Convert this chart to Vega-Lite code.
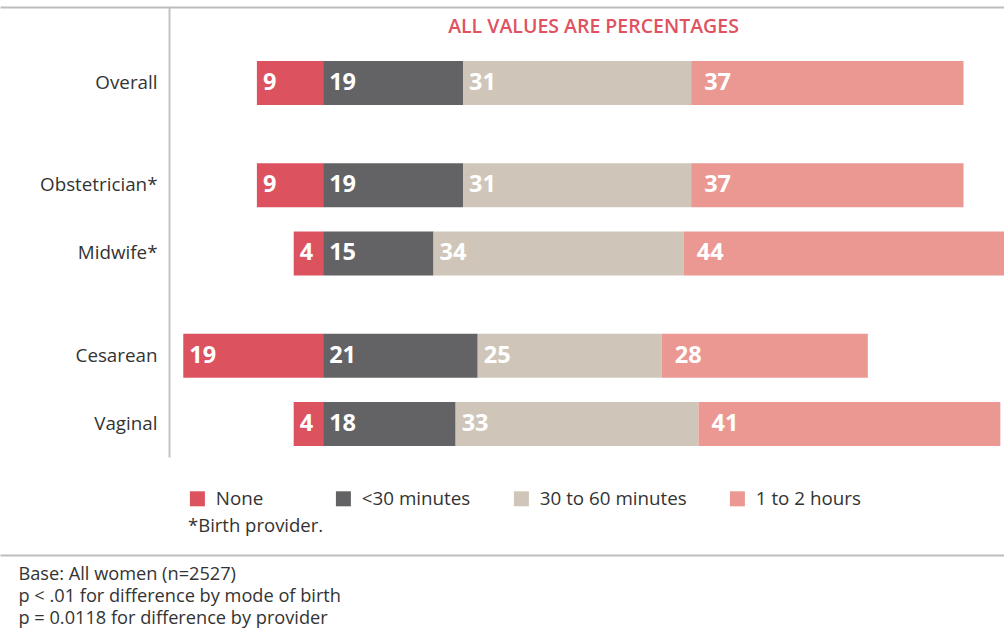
{
  "$schema": "https://vega.github.io/schema/vega-lite/v6.json",
  "width": 1004,
  "height": 450,
  "autosize": {"type": "none"},
  "padding": {"left": 0, "top": 7, "right": 0, "bottom": 174},
  "config": {"view": {"stroke": null}, "font": "Open Sans", "axis": {"grid": false}},
  "data": {
    "values": [
      {"group": "Overall", "duration": "None", "pct": 9},
      {"group": "Overall", "duration": "<30 minutes", "pct": 19},
      {"group": "Overall", "duration": "30 to 60 minutes", "pct": 31},
      {"group": "Overall", "duration": "1 to 2 hours", "pct": 37},
      {"group": "Obstetrician*", "duration": "None", "pct": 9},
      {"group": "Obstetrician*", "duration": "<30 minutes", "pct": 19},
      {"group": "Obstetrician*", "duration": "30 to 60 minutes", "pct": 31},
      {"group": "Obstetrician*", "duration": "1 to 2 hours", "pct": 37},
      {"group": "Midwife*", "duration": "None", "pct": 4},
      {"group": "Midwife*", "duration": "<30 minutes", "pct": 15},
      {"group": "Midwife*", "duration": "30 to 60 minutes", "pct": 34},
      {"group": "Midwife*", "duration": "1 to 2 hours", "pct": 44},
      {"group": "Cesarean", "duration": "None", "pct": 19},
      {"group": "Cesarean", "duration": "<30 minutes", "pct": 21},
      {"group": "Cesarean", "duration": "30 to 60 minutes", "pct": 25},
      {"group": "Cesarean", "duration": "1 to 2 hours", "pct": 28},
      {"group": "Vaginal", "duration": "None", "pct": 4},
      {"group": "Vaginal", "duration": "<30 minutes", "pct": 18},
      {"group": "Vaginal", "duration": "30 to 60 minutes", "pct": 33},
      {"group": "Vaginal", "duration": "1 to 2 hours", "pct": 41}
    ]
  },
  "transform": [
    {"calculate": "indexof(['None','<30 minutes','30 to 60 minutes','1 to 2 hours'], datum.duration)", "as": "ord"},
    {"calculate": "datum.duration === 'None' ? -datum.pct : datum.pct", "as": "signed"},
    {"stack": "signed", "groupby": ["group"], "sort": [{"field": "ord", "order": "ascending"}], "as": ["x0", "x1"], "offset": "zero"},
    {"calculate": "min(datum.x0, datum.x1)", "as": "left"}
  ],
  "encoding": {
    "y": {
      "field": "group",
      "type": "nominal",
      "scale": {
        "domain": ["", "Overall", " ", "  ", "Obstetrician*", "   ", "Midwife*", "    ", "     ", "Cesarean", "      ", "Vaginal"],
        "paddingInner": 0,
        "paddingOuter": 0.598,
        "align": 0.609
      },
      "axis": {
        "orient": "left",
        "offset": -169,
        "title": null,
        "ticks": false,
        "tickSize": 0,
        "labelPadding": 12,
        "labelFontSize": 18.8,
        "labelColor": "#333333",
        "labelFont": "Open Sans",
        "domainColor": "#c4c4c4",
        "domainWidth": 2
      }
    }
  },
  "layer": [
    {
      "mark": {"type": "bar", "height": 44},
      "encoding": {
        "x": {
          "field": "x0",
          "type": "quantitative",
          "scale": {"domain": [-43.9, 92.5], "nice": false, "zero": false},
          "axis": {
            "orient": "top",
            "labels": false,
            "ticks": false,
            "grid": false,
            "domainColor": "#bdbdbd",
            "domainWidth": 2,
            "title": "ALL VALUES ARE PERCENTAGES",
            "titleColor": "#e0525f",
            "titleFontSize": 19.5,
            "titleFontWeight": 600,
            "titleFont": "Open Sans",
            "titleX": 593,
            "titleY": 19,
            "titleAlign": "center",
            "titleBaseline": "middle"
          }
        },
        "x2": {"field": "x1"},
        "color": {
          "field": "duration",
          "type": "nominal",
          "scale": {
            "domain": ["None", "<30 minutes", "30 to 60 minutes", "1 to 2 hours"],
            "range": ["#dc525e", "#636365", "#cfc6b9", "#eb9893"]
          },
          "legend": {
            "orient": "none",
            "legendX": 188,
            "legendY": 482,
            "direction": "horizontal",
            "columns": 4,
            "padding": 0,
            "title": "*Birth provider.",
            "titleOrient": "bottom",
            "titleAnchor": "start",
            "titleFontWeight": "normal",
            "titleFontSize": 18.5,
            "titleColor": "#333333",
            "titleFont": "Open Sans",
            "titlePadding": 8,
            "symbolType": "square",
            "symbolSize": 225,
            "symbolStrokeWidth": 0,
            "symbolOpacity": 1,
            "labelFontSize": 18.8,
            "labelColor": "#333333",
            "labelFont": "Open Sans",
            "labelOffset": 9,
            "labelLimit": 300,
            "labelExpr": "datum.label === 'None' ? 'None\u00a0\u00a0\u00a0\u00a0\u00a0\u00a0\u200b' : datum.label",
            "columnPadding": 41,
            "encode": {
              "symbols": {
                "update": {
                  "fill": {"signal": "datum.value === 'None' ? '#b53d4d' : scale('color', datum.value)"}
                }
              }
            }
          }
        }
      }
    },
    {
      "transform": [{"filter": "datum.duration !== '1 to 2 hours'"}],
      "mark": {"type": "text", "align": "left", "baseline": "middle", "dx": 6, "fontSize": 23.5, "fontWeight": "bold", "color": "#ffffff", "font": "Open Sans"},
      "encoding": {
        "x": {
          "field": "left",
          "type": "quantitative",
          "scale": {"domain": [-43.9, 92.5], "nice": false, "zero": false},
          "axis": {
            "orient": "bottom",
            "offset": 98,
            "labels": false,
            "ticks": false,
            "grid": false,
            "domainColor": "#bdbdbd",
            "domainWidth": 2,
            "title": ["Base: All women (n=2527)", "p < .01 for difference by mode of birth", "p = 0.0118 for difference by provider"],
            "titleColor": "#333333",
            "titleFontSize": 18.2,
            "titleFontWeight": "normal",
            "titleFont": "Open Sans",
            "titleLineHeight": 22,
            "titleX": 18,
            "titleY": 10,
            "titleAlign": "left",
            "titleAnchor": "start",
            "titleBaseline": "top"
          }
        },
        "text": {"field": "pct", "type": "quantitative"}
      }
    },
    {
      "transform": [{"filter": "datum.duration === '1 to 2 hours'"}],
      "mark": {"type": "text", "align": "left", "baseline": "middle", "dx": 13, "fontSize": 23.5, "fontWeight": "bold", "color": "#ffffff", "font": "Open Sans"},
      "encoding": {
        "x": {
          "field": "left",
          "type": "quantitative",
          "scale": {"domain": [-43.9, 92.5], "nice": false, "zero": false},
          "axis": null
        },
        "text": {"field": "pct", "type": "quantitative"}
      }
    }
  ],
  "resolve": {"axis": {"x": "independent"}}
}
